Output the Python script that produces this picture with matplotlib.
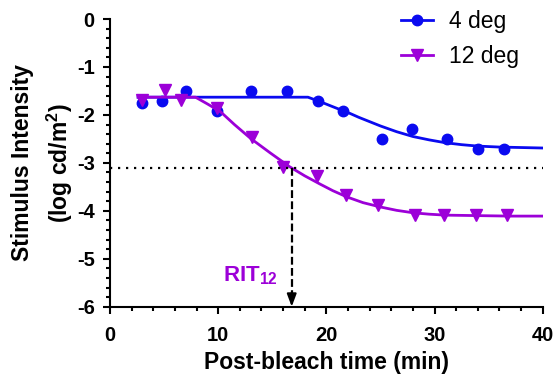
import matplotlib
matplotlib.use('Agg')
import matplotlib.pyplot as plt
from matplotlib.ticker import MultipleLocator

plt.rcParams['font.family'] = ['Liberation Sans', 'DejaVu Sans']
plt.rcParams['mathtext.fontset'] = 'custom'
plt.rcParams['mathtext.rm'] = 'Liberation Sans'
plt.rcParams['mathtext.bf'] = 'Liberation Sans:bold'
plt.rcParams['mathtext.it'] = 'Liberation Sans:italic'
plt.rcParams['axes.unicode_minus'] = False

# measured thresholds (log cd/m^2) vs post-bleach time (min)
t_4deg = [3.0, 4.8, 7.0, 9.9, 13.0, 16.4, 19.2, 21.5, 25.1, 27.9, 31.2, 34.0, 36.4]
y_4deg = [-1.76, -1.70, -1.50, -1.92, -1.50, -1.50, -1.71, -1.91, -2.51, -2.30, -2.51, -2.72, -2.72]

t_12deg = [3.0, 5.1, 6.6, 9.9, 13.1, 16.0, 19.1, 21.8, 24.8, 28.2, 30.9, 33.8, 36.7]
y_12deg = [-1.68, -1.47, -1.68, -1.86, -2.45, -3.08, -3.27, -3.68, -3.88, -4.09, -4.09, -4.09, -4.09]

# fitted curves
fit_t_4deg = [2.6, 18.3, 19.5, 20.5, 21.4, 22.2, 23.0, 24.0, 25.0, 26.5, 28.0, 29.5, 31.0, 32.5, 34.0, 36.0, 38.0, 40.0]
fit_y_4deg = [-1.63, -1.63, -1.73, -1.82, -1.90, -1.97, -2.05, -2.14, -2.23, -2.35, -2.45, -2.52, -2.58, -2.62, -2.65, -2.67, -2.68, -2.69]

fit_t_12deg = [2.6, 7.9, 9.0, 10.2, 11.5, 13.0, 14.8, 16.6, 18.0, 19.4, 20.6, 21.9, 23.4, 25.0, 26.5, 28.0, 29.5, 31.0, 34.0, 37.0, 40.0]
fit_y_12deg = [-1.63, -1.63, -1.77, -1.93, -2.20, -2.49, -2.79, -3.08, -3.27, -3.44, -3.58, -3.71, -3.83, -3.92, -3.99, -4.04, -4.07, -4.09, -4.10, -4.11, -4.11]

threshold = -3.10
rit_12 = 16.8

blue = '#0A0AF0'
purple = '#9C00D8'

fig = plt.figure(figsize=(5.55, 3.74), dpi=100)
ax = fig.add_axes([0.1982, 0.1799, 0.7796, 0.7692])

ax.plot(fit_t_4deg, fit_y_4deg, color=blue, lw=2)
ax.plot(t_4deg, y_4deg, 'o', color=blue, ms=7.5, label='4 deg')
ax.plot(fit_t_12deg, fit_y_12deg, color=purple, lw=2)
ax.plot(t_12deg, y_12deg, 'v', color=purple, ms=8, label='12 deg')

# legend handles with line + marker
h1, = ax.plot([], [], '-o', color=blue, lw=2, ms=7.5)
h2, = ax.plot([], [], '-v', color=purple, lw=2, ms=8)
leg = fig.legend([h1, h2], ['4 deg', '12 deg'], loc='upper left',
                 bbox_to_anchor=(0.722, 0.972), frameon=False, fontsize=16.5,
                 handlelength=1.4, handletextpad=0.72, labelspacing=0.5,
                 borderpad=0, borderaxespad=0)

ax.axhline(threshold, color='black', lw=1.6, linestyle=(0, (1, 2.6)))
ax.plot([rit_12, rit_12], [threshold, -5.75], color='black', lw=1.6,
        linestyle=(0, (3.5, 1.5)))
ax.annotate('', xy=(rit_12, -6), xytext=(rit_12, -5.7),
            arrowprops=dict(arrowstyle='-|>,head_length=0.75,head_width=0.28',
                            color='black', lw=1.5, shrinkA=0, shrinkB=0))
ax.text(10.42, -5.48, r'RIT$_{\mathbf{12}}$', color=purple, fontsize=16,
        fontweight='bold', ha='left', va='baseline')

ax.set_xlim(0, 40)
ax.set_ylim(-6, 0)
ax.xaxis.set_major_locator(MultipleLocator(10))
ax.xaxis.set_minor_locator(MultipleLocator(2))
ax.yaxis.set_major_locator(MultipleLocator(1))
ax.yaxis.set_minor_locator(MultipleLocator(0.2))

for s in ['top', 'right']:
    ax.spines[s].set_visible(False)
for s in ['left', 'bottom']:
    ax.spines[s].set_linewidth(1.5)

ax.tick_params(which='major', length=5, width=1.5, direction='out', labelsize=14.5)
ax.tick_params(axis='x', which='major', pad=9)
ax.tick_params(axis='y', which='major', pad=6)
ax.tick_params(which='minor', length=3, width=1.5, direction='out')
for lab in ax.get_xticklabels() + ax.get_yticklabels():
    lab.set_fontweight('bold')

ax.set_xlabel('Post-bleach time (min)', fontsize=16.5, fontweight='bold', labelpad=4)
ax.set_ylabel('Stimulus Intensity\n' + r'(log cd/m$^{\mathbf{2}}$)', fontsize=16.5,
              fontweight='bold', labelpad=1, linespacing=1.5)

fig.savefig('out.png', dpi=100)
